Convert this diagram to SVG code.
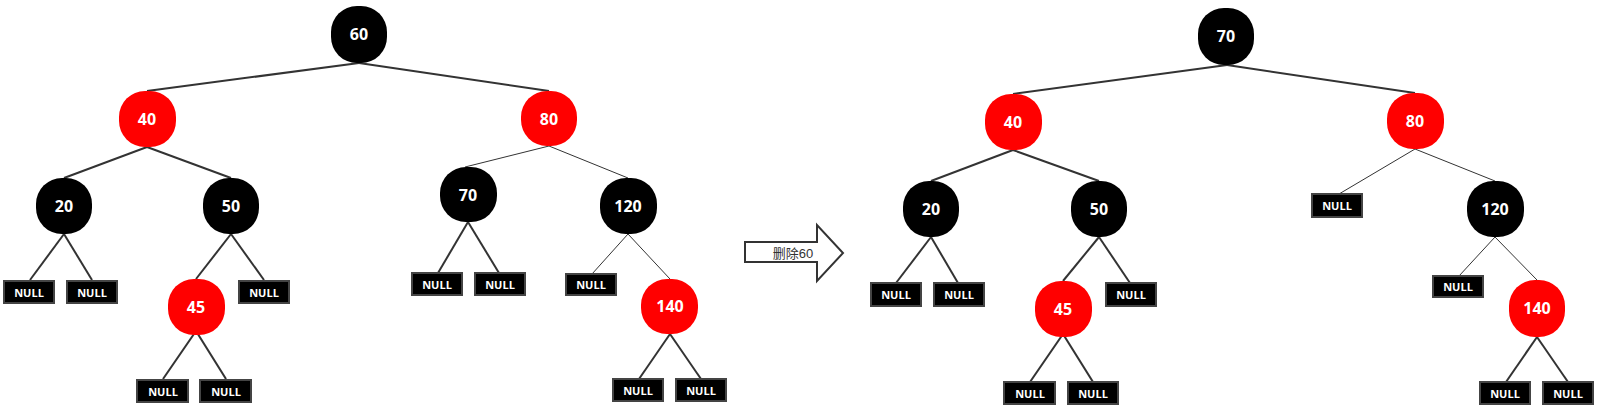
<svg xmlns="http://www.w3.org/2000/svg" width="1601" height="411" viewBox="0 0 1601 411">
<style>
.b{fill:#000}
.r{fill:#ff0000}
.lbl{font-family:"Open Sans","Liberation Sans",sans-serif;font-weight:bold;font-size:16px;fill:#fff;text-anchor:middle;dominant-baseline:central}
.nb{fill:#000;stroke:#444;stroke-width:2}
.nt{font-family:"Open Sans","Liberation Sans",sans-serif;font-weight:bold;font-size:11px;fill:#fff;text-anchor:middle;dominant-baseline:central}
.e{stroke:#333;stroke-width:2;fill:none}
.t{stroke:#333;stroke-width:1;fill:none}
</style>
<g id="connectors">
<line class="e" x1="359" y1="63" x2="147" y2="91"/>
<line class="e" x1="359" y1="63" x2="549" y2="91"/>
<line class="e" x1="147" y1="147" x2="64" y2="178"/>
<line class="e" x1="147" y1="147" x2="231" y2="178"/>
<line class="e" x1="64" y1="234" x2="30" y2="280"/>
<line class="e" x1="64" y1="234" x2="92" y2="280"/>
<line class="e" x1="231" y1="234" x2="196" y2="279"/>
<line class="e" x1="231" y1="234" x2="264" y2="280"/>
<line class="e" x1="196" y1="331" x2="163" y2="379"/>
<line class="e" x1="196" y1="331" x2="226" y2="379"/>
<line class="t" x1="549" y1="146" x2="465" y2="167"/>
<line class="t" x1="549" y1="146" x2="628" y2="178"/>
<line class="e" x1="468" y1="222" x2="438" y2="273"/>
<line class="e" x1="468" y1="222" x2="499" y2="273"/>
<line class="t" x1="628" y1="234" x2="592" y2="274"/>
<line class="t" x1="628" y1="234" x2="670" y2="279"/>
<line class="e" x1="670" y1="334" x2="639" y2="379"/>
<line class="e" x1="670" y1="334" x2="701" y2="379"/>
<line class="e" x1="1227" y1="65" x2="1013" y2="94"/>
<line class="e" x1="1227" y1="65" x2="1415" y2="93"/>
<line class="e" x1="1013" y1="150" x2="931" y2="181"/>
<line class="e" x1="1013" y1="150" x2="1099" y2="181"/>
<line class="e" x1="931" y1="237" x2="896" y2="283"/>
<line class="e" x1="931" y1="237" x2="958" y2="283"/>
<line class="e" x1="1099" y1="237" x2="1063" y2="281"/>
<line class="e" x1="1099" y1="237" x2="1130" y2="283"/>
<line class="e" x1="1063" y1="334" x2="1030" y2="382"/>
<line class="e" x1="1063" y1="334" x2="1093" y2="382"/>
<line class="t" x1="1415" y1="149" x2="1339" y2="194"/>
<line class="t" x1="1415" y1="149" x2="1495" y2="181"/>
<line class="t" x1="1495" y1="237" x2="1459" y2="276"/>
<line class="t" x1="1495" y1="237" x2="1537" y2="280"/>
<line class="e" x1="1537" y1="337" x2="1506" y2="382"/>
<line class="e" x1="1537" y1="337" x2="1568" y2="382"/>
</g>
<g id="L60"><rect class="b" x="331" y="6" width="56" height="57" rx="26"/><text class="lbl" x="359" y="34">60</text></g>
<g id="L40"><rect class="r" x="119" y="91" width="57" height="56" rx="26"/><text class="lbl" x="147" y="119">40</text></g>
<g id="L80"><rect class="r" x="521" y="91" width="56" height="55" rx="26"/><text class="lbl" x="549" y="119">80</text></g>
<g id="L20"><rect class="b" x="36" y="178" width="56" height="56" rx="26"/><text class="lbl" x="64" y="206">20</text></g>
<g id="L50"><rect class="b" x="203" y="178" width="56" height="56" rx="26"/><text class="lbl" x="231" y="206">50</text></g>
<g id="L70"><rect class="b" x="440" y="167" width="57" height="55" rx="26"/><text class="lbl" x="468" y="195">70</text></g>
<g id="L120"><rect class="b" x="600" y="178" width="57" height="56" rx="26"/><text class="lbl" x="628" y="206">120</text></g>
<g id="L45"><rect class="r" x="168" y="279" width="57" height="56" rx="26"/><text class="lbl" x="196" y="307">45</text></g>
<g id="L140"><rect class="r" x="641" y="279" width="57" height="55" rx="26"/><text class="lbl" x="670" y="306">140</text></g>
<g id="LN1"><rect class="nb" x="4" y="281" width="50" height="22"/><text class="nt" x="29" y="292">NULL</text></g>
<g id="LN2"><rect class="nb" x="67" y="281" width="50" height="22"/><text class="nt" x="92" y="292">NULL</text></g>
<g id="LN3"><rect class="nb" x="239" y="281" width="50" height="22"/><text class="nt" x="264" y="292">NULL</text></g>
<g id="LN4"><rect class="nb" x="137" y="380" width="51" height="22"/><text class="nt" x="163" y="391">NULL</text></g>
<g id="LN5"><rect class="nb" x="200" y="380" width="51" height="22"/><text class="nt" x="226" y="391">NULL</text></g>
<g id="LN6"><rect class="nb" x="412" y="273" width="50" height="22"/><text class="nt" x="437" y="284">NULL</text></g>
<g id="LN7"><rect class="nb" x="475" y="273" width="50" height="22"/><text class="nt" x="500" y="284">NULL</text></g>
<g id="LN8"><rect class="nb" x="566" y="274" width="50" height="21"/><text class="nt" x="591" y="284.5">NULL</text></g>
<g id="LN9"><rect class="nb" x="613" y="379" width="50" height="22"/><text class="nt" x="638" y="390">NULL</text></g>
<g id="LN10"><rect class="nb" x="676" y="379" width="50" height="22"/><text class="nt" x="701" y="390">NULL</text></g>
<g id="arrow">
<path d="M745,242 H817 V225 L843,253 L817,281 V262 H745 Z" fill="#fff" stroke="#333" stroke-width="2" stroke-linejoin="miter"/>
<text x="793" y="253" font-family="'Liberation Sans','Noto Sans CJK SC',sans-serif" font-size="13" fill="#333" text-anchor="middle" dominant-baseline="central">删除60</text>
</g>
<g id="R70"><rect class="b" x="1198" y="8" width="56" height="57" rx="26"/><text class="lbl" x="1226" y="36">70</text></g>
<g id="R40"><rect class="r" x="985" y="94" width="57" height="56" rx="26"/><text class="lbl" x="1013" y="122">40</text></g>
<g id="R80"><rect class="r" x="1387" y="93" width="57" height="56" rx="26"/><text class="lbl" x="1415" y="121">80</text></g>
<g id="R20"><rect class="b" x="903" y="181" width="56" height="56" rx="26"/><text class="lbl" x="931" y="209">20</text></g>
<g id="R50"><rect class="b" x="1071" y="181" width="56" height="56" rx="26"/><text class="lbl" x="1099" y="209">50</text></g>
<g id="R120"><rect class="b" x="1467" y="181" width="57" height="56" rx="26"/><text class="lbl" x="1495" y="209">120</text></g>
<g id="R45"><rect class="r" x="1035" y="281" width="57" height="56" rx="26"/><text class="lbl" x="1063" y="309">45</text></g>
<g id="R140"><rect class="r" x="1509" y="280" width="56" height="57" rx="26"/><text class="lbl" x="1537" y="308">140</text></g>
<g id="RN1"><rect class="nb" x="871" y="283" width="50" height="23"/><text class="nt" x="896" y="294.5">NULL</text></g>
<g id="RN2"><rect class="nb" x="934" y="283" width="50" height="23"/><text class="nt" x="959" y="294.5">NULL</text></g>
<g id="RN3"><rect class="nb" x="1106" y="283" width="50" height="23"/><text class="nt" x="1131" y="294.5">NULL</text></g>
<g id="RN4"><rect class="nb" x="1004" y="382" width="51" height="22"/><text class="nt" x="1030" y="393">NULL</text></g>
<g id="RN5"><rect class="nb" x="1068" y="382" width="50" height="22"/><text class="nt" x="1093" y="393">NULL</text></g>
<g id="RN6"><rect class="nb" x="1312" y="194" width="50" height="23"/><text class="nt" x="1337" y="205.5">NULL</text></g>
<g id="RN7"><rect class="nb" x="1433" y="276" width="50" height="21"/><text class="nt" x="1458" y="286.5">NULL</text></g>
<g id="RN8"><rect class="nb" x="1480" y="382" width="50" height="22"/><text class="nt" x="1505" y="393">NULL</text></g>
<g id="RN9"><rect class="nb" x="1543" y="382" width="50" height="22"/><text class="nt" x="1568" y="393">NULL</text></g>
</svg>
